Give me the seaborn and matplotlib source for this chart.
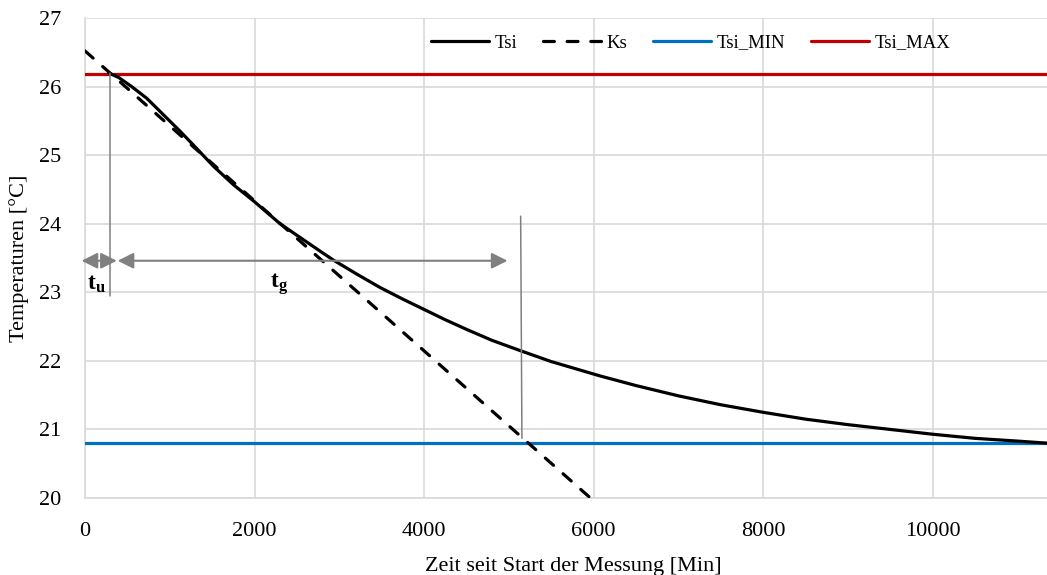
import matplotlib
matplotlib.use("Agg")
import matplotlib.pyplot as plt
import seaborn as sns
import pandas as pd

zeit_tsi = [280, 400, 550, 728, 900, 1121, 1300, 1514, 1750, 2000, 2301,
            2537, 2750, 2930, 3200, 3481, 3750, 4000, 4250, 4500, 4800,
            5133, 5500, 6077, 6500, 7000, 7500, 8000, 8500, 9000, 9500,
            10000, 10500, 11000, 11350]
tsi = [26.20, 26.13, 26.00, 25.83, 25.62, 25.35, 25.12, 24.84, 24.57, 24.32,
       24.00, 23.80, 23.62, 23.47, 23.27, 23.07, 22.90, 22.75, 22.60, 22.46,
       22.30, 22.15, 21.99, 21.78, 21.64, 21.49, 21.36, 21.25, 21.15, 21.07,
       21.00, 20.93, 20.87, 20.83, 20.80]

# Wendetangente
zeit_ks = [0, 6000]
ks = [26.52, 19.96]

# Grenzwerte
zeit_grenz = [0, 11350]
tsi_min = [20.8, 20.8]
tsi_max = [26.18, 26.18]

x_ticks = [0, 2000, 4000, 6000, 8000, 10000]
y_ticks = [20, 21, 22, 23, 24, 25, 26, 27]

sns.set_style("white")
plt.rcParams["font.family"] = ["Liberation Serif", "DejaVu Serif"]
plt.rcParams["mathtext.fontset"] = "custom"
plt.rcParams["mathtext.rm"] = "Liberation Serif"
plt.rcParams["mathtext.bf"] = "Liberation Serif:bold"
plt.rcParams["text.color"] = "black"
plt.rcParams["axes.labelcolor"] = "black"
plt.rcParams["xtick.color"] = "black"
plt.rcParams["ytick.color"] = "black"

fig = plt.figure(figsize=(10.47, 5.75), dpi=100)
ax = fig.add_axes([85 / 1047, 1 - 498 / 575, (1047 - 85) / 1047, 480 / 575])

df_tsi = pd.DataFrame({"zeit": zeit_tsi, "temp": tsi})
df_ks = pd.DataFrame({"zeit": zeit_ks, "temp": ks})
df_min = pd.DataFrame({"zeit": zeit_grenz, "temp": tsi_min})
df_max = pd.DataFrame({"zeit": zeit_grenz, "temp": tsi_max})

lw = 2.3
sns.lineplot(data=df_tsi, x="zeit", y="temp", ax=ax, color="black", lw=lw,
             label="Tsi", zorder=4)
sns.lineplot(data=df_ks, x="zeit", y="temp", ax=ax, color="black", lw=lw,
             linestyle=(0, (3.4, 4.0)), dash_capstyle="round", label="Ks",
             zorder=4)
sns.lineplot(data=df_min, x="zeit", y="temp", ax=ax, color="#0070C0", lw=lw,
             label="Tsi_MIN", zorder=3)
sns.lineplot(data=df_max, x="zeit", y="temp", ax=ax, color="#C00000", lw=lw,
             label="Tsi_MAX", zorder=3)

# Hilfslinien fuer tu / tg
grau = "#808080"
ax.plot([295, 295], [26.2, 22.94], color=grau, lw=1.1, zorder=5)
ax.plot([5140, 5155], [24.11, 20.87], color=grau, lw=1.1, zorder=5)
pfeil = dict(arrowstyle="<|-|>", color=grau, lw=1.5, mutation_scale=24,
             shrinkA=0, shrinkB=0)
ax.annotate("", xy=(-40, 23.46), xytext=(375, 23.46), arrowprops=pfeil,
            annotation_clip=False, zorder=5)
ax.annotate("", xy=(385, 23.46), xytext=(4985, 23.46), arrowprops=pfeil,
            annotation_clip=False, zorder=5)
ax.text(20, 23.12, r"$\mathbf{t_u}$", fontsize=17, va="center", ha="left")
ax.text(2180, 23.12, r"$\mathbf{t_g}$", fontsize=17, va="center", ha="left")

ax.set_xlim(0, 11350)
ax.set_ylim(20, 27)
ax.set_xticks(x_ticks)
ax.set_yticks(y_ticks)
ax.tick_params(axis="both", length=0, labelsize=16)
ax.tick_params(axis="y", pad=17)
ax.tick_params(axis="x", pad=17)

ax.grid(True, color="#d9d9d9", lw=1.2)
ax.set_axisbelow(True)
for s in ["top", "right"]:
    ax.spines[s].set_visible(False)
for s in ["left", "bottom"]:
    ax.spines[s].set_color("#d9d9d9")
    ax.spines[s].set_linewidth(1.2)

ax.set_xlabel("Zeit seit Start der Messung [Min]", fontsize=16)
ax.set_ylabel("Temperaturen [°C]", fontsize=16)
ax.xaxis.set_label_coords(0.508, -0.122)
ax.yaxis.set_label_coords(-0.058, 0.5)

ax.legend(loc="center left", bbox_to_anchor=(0.36, 0.948), ncol=4,
          frameon=False, fontsize=13.5, handlelength=3.1, handletextpad=0.3,
          columnspacing=1.35, borderpad=0, borderaxespad=0)

fig.savefig("out.png", dpi=100)
